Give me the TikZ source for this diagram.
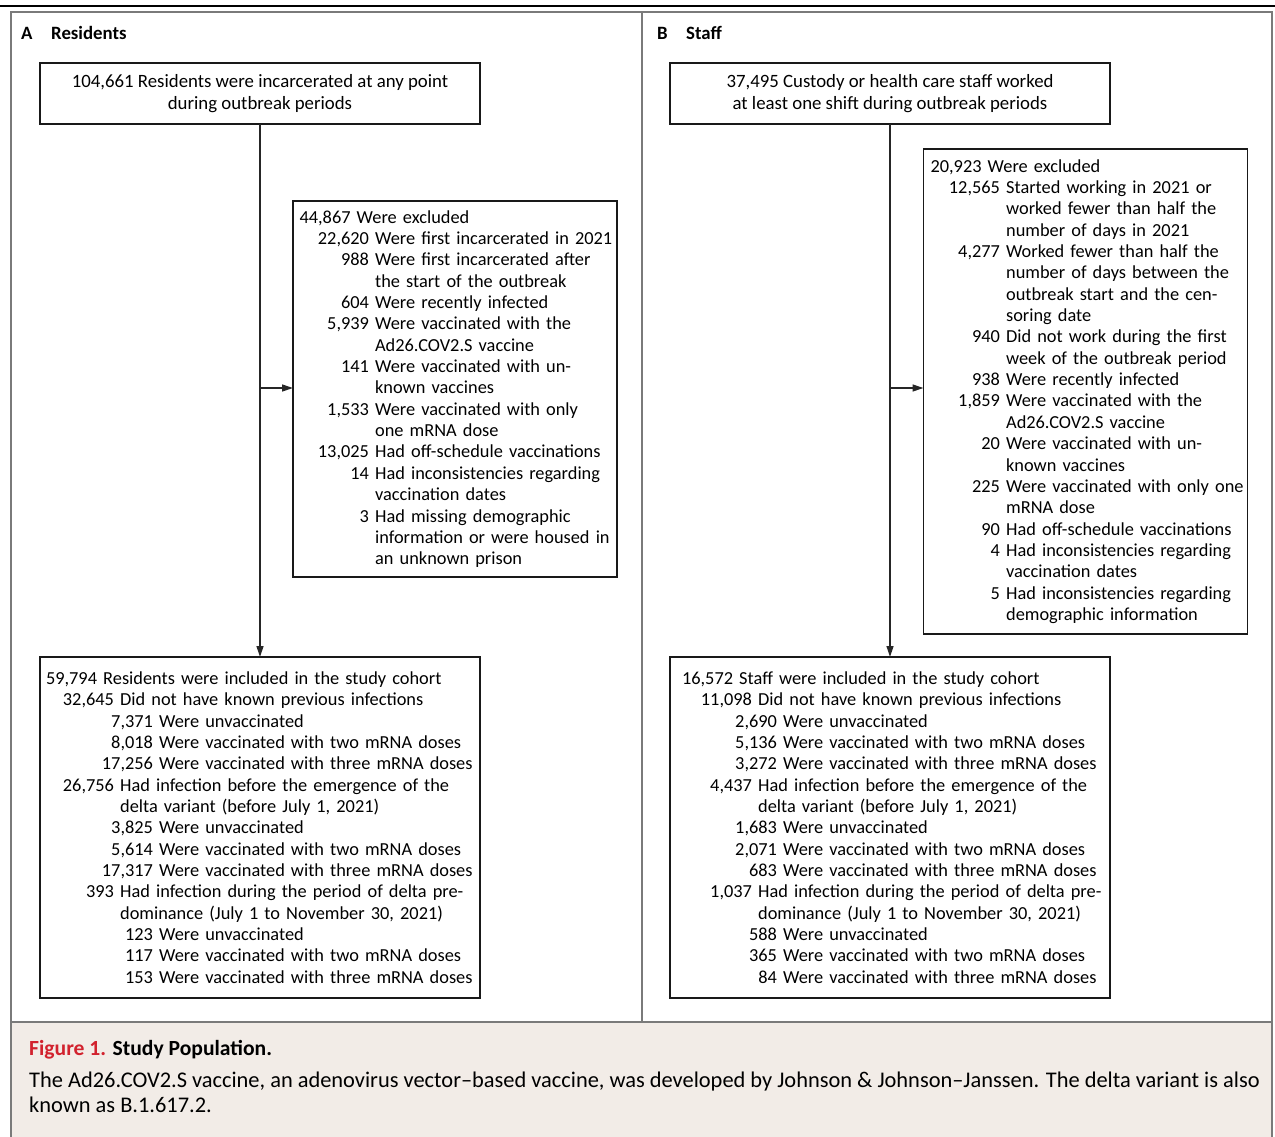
\documentclass[tikz,border=0pt]{standalone}
\usepackage{fontspec}
\setmainfont{Carlito}
\usetikzlibrary{arrows.meta,positioning,calc}

\definecolor{framegray}{RGB}{122,122,122}
\definecolor{capbg}{RGB}{242,236,231}
\definecolor{figred}{RGB}{210,34,46}

\newcommand{\boxfont}{\fontsize{18.8}{21.36}\selectfont}
\newcommand{\listfont}{\fontsize{18.35}{21.36}\selectfont}
\newcommand{\capfont}{\fontsize{21.6}{26}\selectfont}
\newcommand{\numline}[3]{\mbox{\makebox[#1][r]{#2}\ #3}}
\newcommand{\moreline}[2]{\mbox{\hspace*{#1}\ #2}}

\begin{document}
\begin{tikzpicture}[
    x=1pt, y=-1pt,
    box/.style={draw=black!90, line width=1.3pt, outer sep=0pt, inner ysep=0pt, font=\boxfont},
    topbox/.style={box, minimum width=440pt, minimum height=61pt, align=center},
    listbox/.style={box, align=left, font=\listfont},
    arr/.style={-{Triangle[length=11pt, width=7pt]}, line width=1.3pt, black!85},
    frame/.style={draw=framegray, line width=2pt},
    heading/.style={anchor=base west, inner sep=0pt, font=\boxfont\bfseries},
    caption/.style={anchor=base west, inner sep=0pt, font=\fontsize{22.4}{26}\selectfont},
]
  \useasboundingbox (0,0) rectangle (1275,1137);

  \fill[capbg] (11,1022) rectangle (1272,1137);
  \draw[frame] (11,1137) -- (11,12) -- (1272,12) -- (1272,1137);
  \draw[frame] (11,1022) -- (1272,1022);
  \draw[frame] (641.5,12) -- (641.5,1022);
  \draw[line width=2pt] (0,6) -- (1275,6);

  % A: residents
  \node[heading] (letterA) at (21,40) {A};
  \node[heading] (titleA)  at (51,40) {Residents};

  \node[topbox] (resall) at (260,93.5)
    {104,661 Residents were incarcerated at any point\\during outbreak periods};

  \node[listbox, text width=311pt, inner xsep=6.5pt, minimum height=376pt] (resout) at (455,389) {%
    \mbox{44,867 Were excluded}\\
    \numline{69.5pt}{22,620}{Were first incarcerated in 2021}\\
    \numline{69.5pt}{988}{Were first incarcerated after}\\
    \moreline{69.5pt}{the start of the outbreak}\\
    \numline{69.5pt}{604}{Were recently infected}\\
    \numline{69.5pt}{5,939}{Were vaccinated with the}\\
    \moreline{69.5pt}{Ad26.COV2.S vaccine}\\
    \numline{69.5pt}{141}{Were vaccinated with un-}\\
    \moreline{69.5pt}{known vaccines}\\
    \numline{69.5pt}{1,533}{Were vaccinated with only}\\
    \moreline{69.5pt}{one mRNA dose}\\
    \numline{69.5pt}{13,025}{Had off-schedule vaccinations}\\
    \numline{69.5pt}{14}{Had inconsistencies regarding}\\
    \moreline{69.5pt}{vaccination dates}\\
    \numline{69.5pt}{3}{Had missing demographic}\\
    \moreline{69.5pt}{information or were housed in}\\
    \moreline{69.5pt}{an unknown prison}};

  \node[listbox, text width=428pt, inner xsep=6pt, minimum height=341pt] (resin) at (260,827.5) {%
    \mbox{59,794 Residents were included in the study cohort}\\
    \numline{68pt}{32,645}{Did not have known previous infections}\\
    \numline{107pt}{7,371}{Were unvaccinated}\\
    \numline{107pt}{8,018}{Were vaccinated with two mRNA doses}\\
    \numline{107pt}{17,256}{Were vaccinated with three mRNA doses}\\
    \numline{68pt}{26,756}{Had infection before the emergence of the}\\
    \moreline{68pt}{delta variant (before July 1, 2021)}\\
    \numline{107pt}{3,825}{Were unvaccinated}\\
    \numline{107pt}{5,614}{Were vaccinated with two mRNA doses}\\
    \numline{107pt}{17,317}{Were vaccinated with three mRNA doses}\\
    \numline{68pt}{393}{Had infection during the period of delta pre-}\\
    \moreline{68pt}{dominance (July 1 to November 30, 2021)}\\
    \numline{107pt}{123}{Were unvaccinated}\\
    \numline{107pt}{117}{Were vaccinated with two mRNA doses}\\
    \numline{107pt}{153}{Were vaccinated with three mRNA doses}};

  \coordinate (ressplit) at (260,388);
  \draw[arr] (resall) -- (resin);
  \draw[arr] (ressplit) -- (ressplit -| resout.west);

  % B: staff
  \node[heading] (letterB) at (657,40) {B};
  \node[heading] (titleB)  at (686,40) {Staff};

  \node[topbox] (staffall) at (890,93.5)
    {37,495 Custody or health care staff worked\\at least one shift during outbreak periods};

  \node[listbox, text width=310pt, inner xsep=7pt, minimum height=485pt] (staffout) at (1085.5,391.5) {%
    \mbox{20,923 Were excluded}\\
    \numline{69.5pt}{12,565}{Started working in 2021 or}\\
    \moreline{69.5pt}{worked fewer than half the}\\
    \moreline{69.5pt}{number of days in 2021}\\
    \numline{69.5pt}{4,277}{Worked fewer than half the}\\
    \moreline{69.5pt}{number of days between the}\\
    \moreline{69.5pt}{outbreak start and the cen-}\\
    \moreline{69.5pt}{soring date}\\
    \numline{69.5pt}{940}{Did not work during the first}\\
    \moreline{69.5pt}{week of the outbreak period}\\
    \numline{69.5pt}{938}{Were recently infected}\\
    \numline{69.5pt}{1,859}{Were vaccinated with the}\\
    \moreline{69.5pt}{Ad26.COV2.S vaccine}\\
    \numline{69.5pt}{20}{Were vaccinated with un-}\\
    \moreline{69.5pt}{known vaccines}\\
    \numline{69.5pt}{225}{Were vaccinated with only one}\\
    \moreline{69.5pt}{mRNA dose}\\
    \numline{69.5pt}{90}{Had off-schedule vaccinations}\\
    \numline{69.5pt}{4}{Had inconsistencies regarding}\\
    \moreline{69.5pt}{vaccination dates}\\
    \numline{69.5pt}{5}{Had inconsistencies regarding}\\
    \moreline{69.5pt}{demographic information}};

  \node[listbox, text width=416pt, inner xsep=12pt, minimum height=341pt] (staffin) at (890,827.5) {%
    \mbox{16,572 Staff were included in the study cohort}\\
    \numline{70pt}{11,098}{Did not have known previous infections}\\
    \numline{95pt}{2,690}{Were unvaccinated}\\
    \numline{95pt}{5,136}{Were vaccinated with two mRNA doses}\\
    \numline{95pt}{3,272}{Were vaccinated with three mRNA doses}\\
    \numline{70pt}{4,437}{Had infection before the emergence of the}\\
    \moreline{70pt}{delta variant (before July 1, 2021)}\\
    \numline{95pt}{1,683}{Were unvaccinated}\\
    \numline{95pt}{2,071}{Were vaccinated with two mRNA doses}\\
    \numline{95pt}{683}{Were vaccinated with three mRNA doses}\\
    \numline{70pt}{1,037}{Had infection during the period of delta pre-}\\
    \moreline{70pt}{dominance (July 1 to November 30, 2021)}\\
    \numline{95pt}{588}{Were unvaccinated}\\
    \numline{95pt}{365}{Were vaccinated with two mRNA doses}\\
    \numline{95pt}{84}{Were vaccinated with three mRNA doses}};

  \coordinate (staffsplit) at (890,388);
  \draw[arr] (staffall) -- (staffin);
  \draw[arr] (staffsplit) -- (staffsplit -| staffout.west);

  % caption
  \node[caption, font=\capfont\bfseries] (figtitle) at (29,1055)
    {\textcolor{figred}{Figure 1.} Study Population.};
  \node[caption] (capline1) at (29,1087)
    {The Ad26.COV2.S vaccine, an adenovirus vector--based vaccine, was developed by Johnson \& Johnson--Janssen. The delta variant is also};
  \node[caption] (capline2) at (29,1112.7) {known as B.1.617.2.};
\end{tikzpicture}
\end{document}
